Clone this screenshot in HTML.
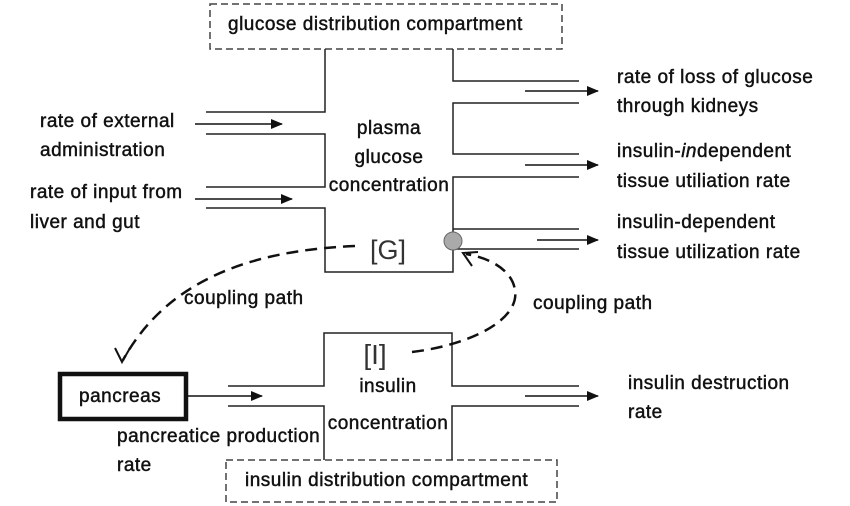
<!DOCTYPE html>
<html><head><meta charset="utf-8"><style>
html,body{margin:0;padding:0;background:#fff;}
svg{display:block;}
text{font-family:"Liberation Sans",Arial,sans-serif;font-size:19px;letter-spacing:0.5px;fill:#111;stroke:#111;stroke-width:0.45px;}
</style></head><body>
<svg width="850" height="506" viewBox="0 0 850 506" xmlns="http://www.w3.org/2000/svg">
<defs>
<marker id="ah" markerWidth="12" markerHeight="10" refX="11" refY="5" orient="auto" markerUnits="userSpaceOnUse">
<path d="M0,0 L12,5 L0,10 Z" fill="#111"/></marker>
</defs>
<g fill="none" stroke="#222" stroke-width="1.5">
<rect x="210" y="4" width="352" height="45" stroke-dasharray="7,4" stroke="#444"/>
<rect x="226" y="460" width="331" height="42" stroke-dasharray="7,4" stroke="#444"/>
<path d="M325,49 V112 H206 M206,134 H325 V187 H206 M206,208 H325 V272 H453 V177 H579 M579,229 H453 M453,249 H579 M579,154 H453 V103 H579 M579,81 H453 V49"/>
<path d="M228,386 H324 V333 H452 V386 H579 M579,406 H452 V460 M324,460 V406 H228"/>
</g>
<g stroke="#111" stroke-width="1.5" fill="none">
<line x1="195" y1="124" x2="282" y2="124" marker-end="url(#ah)"/>
<line x1="195" y1="199" x2="292" y2="199" marker-end="url(#ah)"/>
<line x1="525" y1="91" x2="598" y2="91" marker-end="url(#ah)"/>
<line x1="525" y1="165" x2="598" y2="165" marker-end="url(#ah)"/>
<line x1="537" y1="240" x2="598" y2="240" marker-end="url(#ah)"/>
<line x1="188" y1="396" x2="262" y2="396" marker-end="url(#ah)"/>
<line x1="525" y1="396" x2="598" y2="396" marker-end="url(#ah)"/>
</g>
<circle cx="453" cy="241" r="9" fill="#aaa" stroke="#666" stroke-width="1"/>
<rect x="60" y="374" width="126" height="45" fill="none" stroke="#111" stroke-width="4.5"/>
<g fill="none" stroke="#111" stroke-width="2.5" stroke-dasharray="12,7">
<path d="M355,246 C260,250 170,275 123,360"/>
<path d="M412,352 C470,345 520,320 515,290 C512,270 490,258 466,254"/>
</g>
<g fill="none" stroke="#111" stroke-width="2">
<path d="M115,348 L122,362 L130,348"/>
<path d="M478,252 L463,253 L472,266"/>
</g>
<text x="228" y="30">glucose distribution compartment</text>
<text x="245" y="486">insulin distribution compartment</text>
<text x="40" y="127">rate of external</text>
<text x="40" y="156">administration</text>
<text x="30" y="198">rate of input from</text>
<text x="30" y="228">liver and gut</text>
<text x="617" y="83">rate of loss of glucose</text>
<text x="617" y="112">through kidneys</text>
<text x="617" y="157">insulin-<tspan font-style="italic">in</tspan>dependent</text>
<text x="617" y="187">tissue utiliation rate</text>
<text x="617" y="228">insulin-dependent</text>
<text x="617" y="258">tissue utilization rate</text>
<text x="628" y="389">insulin destruction</text>
<text x="628" y="418">rate</text>
<text x="184" y="304">coupling path</text>
<text x="533" y="309">coupling path</text>
<text x="117" y="442">pancreatice production</text>
<text x="117" y="471">rate</text>
<text x="79" y="402">pancreas</text>
<text x="389" y="134" text-anchor="middle">plasma</text>
<text x="389" y="163" text-anchor="middle">glucose</text>
<text x="389" y="191" text-anchor="middle">concentration</text>
<text x="388" y="392" text-anchor="middle">insulin</text>
<text x="388" y="429" text-anchor="middle">concentration</text>
<text x="388" y="259" text-anchor="middle" style="font-size:27px;stroke-width:0;letter-spacing:0;fill:#333">[G]</text>
<text x="375" y="364" text-anchor="middle" style="font-size:28px;stroke-width:0;letter-spacing:0;fill:#333">[I]</text>
</svg>
</body></html>
